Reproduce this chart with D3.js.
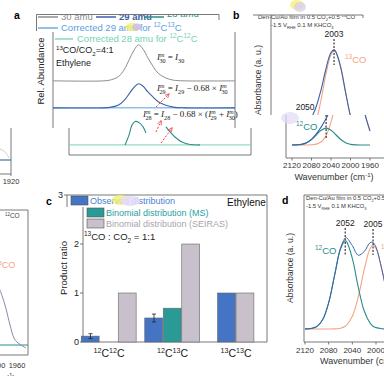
<!DOCTYPE html>
<html>
<head>
<meta charset="utf-8">
<script src="https://cdn.jsdelivr.net/npm/d3@7"></script>
<style>
  body { margin: 0; background: #fff; }
  svg { display: block; font-family: "Liberation Sans", Arial, sans-serif; }
</style>
</head>
<body>
<svg id="fig" width="384" height="376"></svg>
<script>
// ---------------- data ----------------
// panel a : mass spec traces (time in arbitrary units, signal relative)
var msTime = [0, 28, 32, 36, 39, 42, 44.5, 47, 49.5, 52, 55, 58, 62, 66, 72, 100];
var amu30 = [0, 0, 0.03, 0.12, 0.3, 0.6, 0.85, 1.0, 0.88, 0.65, 0.4, 0.2, 0.08, 0.02, 0, 0];
var amu29 = [0, 0, 0.02, 0.08, 0.2, 0.4, 0.57, 0.67, 0.6, 0.45, 0.3, 0.16, 0.07, 0.02, 0, 0];
var amu28LeftTime = [30.8, 33, 34.6, 36.3, 38.5, 40.7, 42.3];
var amu28Left = [0, 0.28, 0.55, 0.65, 0.62, 0.5, 0.33];
var amu28RightTime = [53.3, 55.5, 58.2, 62.1, 66.5, 72];
var amu28Right = [0.5, 0.36, 0.22, 0.08, 0.01, 0];
var baseline30 = 2.06, baseline29 = 1.31, baseline28 = 0.28;

// panel b : SEIRAS, 13CO / 12CO fit
var wnB = [2120, 2110, 2100, 2090, 2080, 2070, 2060, 2050, 2040, 2030, 2020, 2010, 2003, 2000, 1990, 1980, 1970, 1960];
var co13B = [0, 0, 0, 0, 0.002, 0.009, 0.033, 0.097, 0.231, 0.447, 0.705, 0.903, 0.95, 0.941, 0.798, 0.55, 0.308, 0.141];
var co12B = [0, 0.002, 0.007, 0.023, 0.055, 0.103, 0.15, 0.17, 0.15, 0.103, 0.055, 0.023, 0.011, 0.007, 0.002, 0, 0, 0];
var totalB = [0, 0.002, 0.007, 0.023, 0.057, 0.112, 0.183, 0.267, 0.381, 0.55, 0.76, 0.926, 0.961, 0.948, 0.8, 0.55, 0.308, 0.141];
var ticksB = [2120, 2080, 2040, 2000, 1960];

// panel c : product ratio bars
var isotopes = [["12", "12"], ["12", "13"], ["13", "13"]];
var observed = [0.12, 0.49, 1.0];
var observedErr = [0.05, 0.08, 0];
var binomialMS = [0, 0.69, null];
var binomialSEIRAS = [1.0, 2.0, 1.0];
var ticksC = [0, 1, 2, 3];

// panel d : SEIRAS 1:1
var wnD = [2120, 2110, 2100, 2090, 2080, 2070, 2060, 2052, 2050, 2040, 2030, 2020, 2010, 2005, 2000, 1990, 1980, 1970, 1960];
var co12D = [0.001, 0.005, 0.028, 0.105, 0.289, 0.589, 0.879, 0.97, 0.964, 0.777, 0.46, 0.2, 0.064, 0.03, 0.015, 0.003, 0, 0, 0];
var co13D = [0, 0, 0, 0, 0, 0.001, 0.009, 0.03, 0.04, 0.139, 0.351, 0.65, 0.885, 0.92, 0.885, 0.65, 0.351, 0.139, 0.04];
var totalD = [0.001, 0.005, 0.028, 0.105, 0.289, 0.59, 0.888, 1.0, 1.004, 0.916, 0.811, 0.85, 0.949, 0.95, 0.9, 0.653, 0.351, 0.139, 0.04];
var ticksD = [2120, 2080, 2040, 2000];

// ---------------- styles ----------------
var col = {
  gray: "#8d8d8d", dblue: "#3a62a8", lblue: "#5b9de2", mint: "#74d3b4",
  teal: "#2d8c88", orange: "#f5a482", red: "#e8414a", axis: "#555",
  barBlue: "#4474c3", barTeal: "#2a9a97", barGray: "#c8c1cc"
};
var svg = d3.select("#fig");
var defs = svg.append("defs");
var serif = "'Liberation Serif', 'Times New Roman', serif";

function clip(id, x, y, w, h) {
  defs.append("clipPath").attr("id", id).append("rect")
    .attr("x", x).attr("y", y).attr("width", w).attr("height", h);
  return "url(#" + id + ")";
}
defs.append("marker").attr("id", "arr").attr("viewBox", "0 0 10 10")
  .attr("refX", 8).attr("refY", 5).attr("markerWidth", 5).attr("markerHeight", 5)
  .attr("orient", "auto").append("path").attr("d", "M0,1L9,5L0,9").attr("fill", "none")
  .attr("stroke", col.red).attr("stroke-width", 1.5);

// text with sup/sub parts: [text, "n"|"sup"|"sub", dx, style]
function rich(g, x, y, parts, fs, opts) {
  opts = opts || {};
  var t = g.append("text").attr("x", x).attr("y", y).attr("font-size", fs)
    .attr("fill", opts.fill || "#222");
  if (opts.anchor) t.attr("text-anchor", opts.anchor);
  if (opts.family) t.attr("font-family", opts.family);
  if (opts.weight) t.attr("font-weight", opts.weight);
  if (opts.transform) t.attr("transform", opts.transform);
  var shift = 0;
  parts.forEach(function(p) {
    var target = p[1] === "sup" ? -fs * 0.38 : p[1] === "sub" ? fs * 0.28 : 0;
    var s = t.append("tspan").text(p[0]).attr("dy", target - shift);
    if (p[1] !== "n") s.attr("font-size", fs * 0.68);
    if (p[2]) s.attr("dx", p[2]);
    if (p[3]) s.attr("font-style", p[3]);
    shift = target;
  });
  return t;
}
function line(g, d, stroke, w, dash) {
  return g.append("path").attr("d", d).attr("fill", "none").attr("stroke", stroke)
    .attr("stroke-width", w || 0.8).attr("stroke-dasharray", dash || null);
}
function blob(x, y, rx, ry, c, o) {
  svg.append("ellipse").attr("cx", x).attr("cy", y).attr("rx", rx).attr("ry", ry)
    .attr("fill", c).attr("opacity", o);
}

// ================= panel a =================
var xA = d3.scaleLinear().domain([0, 100]).range([53, 235]);     // upper strip
var xA3 = d3.scaleLinear().domain([0, 100]).range([69, 251]);    // lower strip
var yA = d3.scaleLinear().domain([0, 3.4]).range([155, 32.6]);
var curve = d3.curveCatmullRom;

svg.append("text").attr("x", 14).attr("y", 19).attr("font-size", 10.5).attr("font-weight", "bold").text("a");
// legend frame and rows
line(svg, "M36.5,31V14.5H219V20", "#555");
var legRow1 = [["30 amu", col.gray, 38], ["29 amu", col.dblue, 96], ["28 amu", col.teal, 144]];
var leg1 = svg.append("g").attr("clip-path", clip("cLeg1", 30, 14.8, 200, 20));
legRow1.forEach(function(r, i) {
  line(leg1, "M" + r[2] + ",17H" + (r[2] + 20), r[1], 1.3);
  leg1.append("text").attr("x", r[2] + 23).attr("y", i === 2 ? 17 : 20).attr("font-size", 9.5)
    .attr("fill", r[1]).attr("font-weight", i === 1 ? "bold" : null).text(r[0]);
});
line(svg, "M38,28H58", col.lblue, 1.3);
rich(svg, 61, 31, [["Corrected 29 amu for ", "n"], ["12", "sup"], ["C", "n"], ["13", "sup"], ["C", "n"]], 9.5, {fill: col.lblue});
blob(133, 27, 8, 4, "#f3f06a", 0.8);
blob(137, 27, 5, 3.5, "#c9b8f0", 0.8);

// upper strip of panel a
var gA = svg.append("g").attr("clip-path", clip("cA2", 0, 32, 252, 96));
line(gA, "M" + xA(0) + ",30V128M" + xA(100) + ",30V128", "#555");
line(gA, "M55,39H73", col.mint, 1.3);
rich(gA, 77, 42, [["Corrected 28 amu for ", "n"], ["12", "sup"], ["C", "n"], ["12", "sup"], ["C", "n"]], 9.5, {fill: col.mint});
rich(gA, 56, 53, [["13", "sup"], ["CO/CO", "n"], ["2", "sub"], ["=4:1", "n"]], 9);
gA.append("text").attr("x", 56).attr("y", 66).attr("font-size", 9).attr("fill", "#222").text("Ethylene");
rich(gA, 44, 71, [["Rel. Abundance", "n"]], 9.5, {anchor: "middle", transform: "rotate(-90,44,71)"});

function trace(g, xs, ts, vs, base, color, w) {
  var pts = ts.map(function(t, i) { return [t, vs[i]]; });
  g.append("path").datum(pts).attr("fill", "none").attr("stroke", color).attr("stroke-width", w || 1)
    .attr("d", d3.line().curve(curve).x(function(d) { return xs(d[0]); })
      .y(function(d) { return yA(d[1] + base); }));
}
trace(gA, xA, msTime, amu30, baseline30, col.gray, 1);
trace(gA, xA, [0, 100], [0, 0], baseline29, col.lblue, 1);
trace(gA, xA, msTime, amu29, baseline29, col.dblue, 1.1);

var fs = 9;
rich(gA, 157, 60, [["I", "n", 0, "italic"], ["m", "sup", 0, "italic"], ["30", "sub", -5], [" = ", "n"], ["I", "n", 0, "italic"], ["30", "sub"]], fs, {family: serif});
rich(gA, 157, 91, [["I", "n", 0, "italic"], ["m", "sup", 0, "italic"], ["29", "sub", -5], [" = ", "n"], ["I", "n", 0, "italic"], ["29", "sub"], [" − 0.68 × ", "n"], ["I", "n", 0, "italic"], ["m", "sup", 0, "italic"], ["30", "sub", -5]], fs, {family: serif});
rich(gA, 143, 117, [["I", "n", 0, "italic"], ["m", "sup", 0, "italic"], ["28", "sub", -5], [" = ", "n"], ["I", "n", 0, "italic"], ["28", "sub"], [" − 0.68 × (", "n"], ["I", "n", 0, "italic"], ["m", "sup", 0, "italic"], ["29", "sub", -5], [" + ", "n"], ["I", "n", 0, "italic"], ["m", "sup", 0, "italic"], ["30", "sub", -5], [")", "n"]], fs, {family: serif});
line(gA, "M156,107L169,94", col.red, 1, "2,1.6").attr("marker-end", "url(#arr)");

// lower strip of panel a
var gA3 = svg.append("g").attr("clip-path", clip("cA3", 60, 118, 200, 45));
line(gA3, "M" + xA3(0) + ",128V155H" + xA3(100) + "V128", "#555");
trace(gA3, xA3, [0, 100], [0, 0], baseline28, col.mint, 1);
trace(gA3, xA3, amu28LeftTime, amu28Left, baseline28, col.teal, 1.1);
trace(gA3, xA3, amu28RightTime, amu28Right, baseline28, col.teal, 1.1);
line(svg, "M156,132L161,121", col.red, 1, "2,1.6").attr("marker-end", "url(#arr)");
line(svg, "M161,143L172,128", col.red, 1, "2,1.6").attr("marker-end", "url(#arr)");

// left fragments (neighbouring panel)
var xL1 = d3.scaleLinear().domain([1940, 1920]).range([-8, 11]);
line(svg, "M" + xL1(1920) + ",128V174H0M" + xL1(1920) + ",174v2", "#555");
svg.append("text").attr("x", xL1(1920)).attr("y", 184).attr("font-size", 7.5).attr("text-anchor", "middle").attr("fill", "#333").text("1920");
line(svg, "M0,160H11", col.dblue, 1.1);
line(svg, "M0,149Q6,151 9,158", "#c4c4c4", 0.8);

var xL2 = d3.scaleLinear().domain([2000, 1960]).range([-3, 17]);
var yL2 = d3.scaleLinear().domain([0, 1]).range([345, 245]);
line(svg, "M0,210H28V355H0", "#555");
[2000, 1960].forEach(function(t) {
  svg.append("text").attr("x", xL2(t)).attr("y", 368).attr("font-size", 7.5).attr("text-anchor", "middle").attr("fill", "#333").text(t);
});
rich(svg, -6, 380, [["(cm", "n"], ["-1", "sup"], [")", "n"]], 8);
rich(svg, 5, 218, [["12", "sup"], ["CO", "n"]], 6.5, {fill: "#444"});
rich(svg, -5, 268, [["13", "sup"], ["CO", "n"]], 9, {fill: col.orange});
line(svg, "M0,345H28", col.teal, 1);
var wnL = [1994, 1984, 1974, 1966, 1958, 1942];
var vL = [0.55, 0.4, 0.2, 0.07, 0.02, -0.03];
svg.append("path").datum(wnL.map(function(w, i) { return [w, vL[i]]; }))
  .attr("fill", "none").attr("stroke", "#8a88b0").attr("stroke-width", 1)
  .attr("d", d3.line().curve(curve).x(function(d) { return xL2(d[0]); }).y(function(d) { return yL2(d[1]); }));

// ================= panel b =================
var xB = d3.scaleLinear().domain([2120, 1960]).range([292, 370]);
var yB = d3.scaleLinear().domain([0, 1]).range([145, 46]);
svg.append("text").attr("x", 233).attr("y", 19).attr("font-size", 10.5).attr("font-weight", "bold").text("b");

// curves and frame are drawn in both strips; texts only where they show
function drawB(g, upper) {
  function fit(vals, color, w) {
    g.append("path").datum(wnB.map(function(w, i) { return [w, vals[i]]; }))
      .attr("fill", "none").attr("stroke", color).attr("stroke-width", w)
      .attr("d", d3.line().curve(curve).x(function(d) { return xB(d[0]); }).y(function(d) { return yB(d[1]); }));
  }
  line(g, "M286,10V158H400", "#555");
  fit(co13B, col.orange, 1.1);
  fit(co12B, col.teal, 1.2);
  fit(totalB, col.dblue, 1.1);
  if (upper) {
    line(g, "M" + xB(2003) + ",39V65", "#444", 1.3, "2,1.5");
    g.append("text").attr("x", xB(2003)).attr("y", 37).attr("text-anchor", "middle").attr("font-size", 8.5).attr("fill", "#222").text("2003");
    g.append("text").attr("x", xB(2050) - 6).attr("y", 110).attr("text-anchor", "middle").attr("font-size", 8.5).attr("fill", "#222").text("2050");
    rich(g, 360, 63, [["13", "sup"], ["CO", "n"]], 9.5, {fill: col.orange});
    rich(g, 276, 80, [["Absorbance (a. u.)", "n"]], 8.5, {anchor: "middle", fill: "#333", transform: "rotate(-90,276,80)"});
  } else {
    line(g, "M" + xB(2050) + ",115V138", "#444", 1.3, "2,1.5");
    rich(g, 296, 130, [["12", "sup"], ["CO", "n"]], 9.5, {fill: col.teal});
    ticksB.forEach(function(t) {
      line(g, "M" + xB(t) + ",158v2.5", "#555");
      g.append("text").attr("x", xB(t)).attr("y", 168).attr("text-anchor", "middle").attr("font-size", 8).attr("fill", "#333").text(t);
    });
    rich(g, 334, 180, [["Wavenumber (cm", "n"], ["-1", "sup"], [")", "n"]], 9, {anchor: "middle", fill: "#333"});
  }
}
var gB1 = svg.append("g").attr("clip-path", clip("cB1", 254, 15, 140, 100))
  .append("g").attr("transform", "translate(-15,0)");
drawB(gB1, true);
var gB2 = svg.append("g").attr("clip-path", clip("cB2", 270, 115, 120, 75));
drawB(gB2, false);
line(svg, "M253,15H363V18", "#555");
var gBh = svg.append("g").attr("clip-path", clip("cBh", 250, 15.5, 134, 20));
rich(gBh, 258, 19, [["Den-Cu/Au film in 0.5 CO", "n"], ["2", "sub"], ["+0.5 ", "n"], ["13", "sup"], ["CO", "n"]], 6, {fill: "#333"});
rich(gBh, 271, 27, [["-1.5 V", "n"], ["RHE", "sub"], [" 0.1 M KHCO", "n"], ["3", "sub"]], 6, {fill: "#333"});
blob(297, 5, 7, 5, "#f3f06a", 0.7);
blob(300, 7, 6, 5, "#d7c9f2", 0.7);
blob(290, 118, 9, 6, "#e2daf6", 0.7);

// ================= panel c =================
var barSets = [["obs", observed, col.barBlue], ["ms", binomialMS, col.barTeal], ["seiras", binomialSEIRAS, col.barGray]];
var xC = d3.scalePoint().domain([0, 1, 2]).range([109, 236]);
var slotW = 18.5;
var yC = d3.scaleLinear().domain([0, 3]).range([342, 195]);

svg.append("text").attr("x", 46).attr("y", 205).attr("font-size", 10.5).attr("font-weight", "bold").text("c");
line(svg, "M67,207V" + yC(3) + "H267V" + yC(0) + "H83V207", "#555");
ticksC.forEach(function(t) {
  var off = t === 3 ? -16 : 0;
  svg.append("text").attr("x", 79 + off).attr("y", yC(t) + 3).attr("text-anchor", "end")
    .attr("font-size", 9).attr("fill", "#222").text(t);
  line(svg, "M" + (80 + off) + "," + yC(t) + "h3", "#555");
});
rich(svg, 67, 268, [["Product  ratio", "n"]], 9.5, {anchor: "middle", transform: "rotate(-90,67,268)"});

var barData = [];
isotopes.forEach(function(p, i) {
  var present = barSets.filter(function(s) { return s[1][i] !== null; });
  var sub = d3.scaleBand().domain(present.map(function(s) { return s[0]; }))
    .range([-present.length * slotW / 2, present.length * slotW / 2]);
  present.forEach(function(s) {
    barData.push({group: i, value: s[1][i], color: s[2], x: xC(i) + sub(s[0]), w: sub.bandwidth(), key: s[0]});
  });
});
svg.append("g").selectAll("rect").data(barData).enter().append("rect")
  .attr("x", function(d) { return d.x; })
  .attr("y", function(d) { return yC(d.value); })
  .attr("width", function(d) { return d.w - 0.6; })
  .attr("height", function(d) { return yC(0) - yC(d.value); })
  .attr("fill", function(d) { return d.color; })
  .attr("stroke", "#666").attr("stroke-width", 0.6);
barData.filter(function(d) { return d.key === "obs" && observedErr[d.group]; }).forEach(function(d) {
  var cx = d.x + d.w / 2, e = observedErr[d.group];
  line(svg, "M" + cx + "," + yC(d.value + e) + "V" + yC(d.value - e) +
    "M" + (cx - 2) + "," + yC(d.value + e) + "h4M" + (cx - 2) + "," + yC(d.value - e) + "h4", "#222", 0.8);
});
isotopes.forEach(function(p, i) {
  rich(svg, xC(i), 357, [[p[0], "sup"], ["C", "n"], [p[1], "sup"], ["C", "n"]], 10.5, {anchor: "middle"});
});
// legend
var legC = [["Observed distribution", col.barBlue, 71, 201, "#4a7fd0"],
            ["Binomial distribution (MS)", col.barTeal, 87, 213, "#2aa0a0"],
            ["Binomial distribution (SEIRAS)", col.barGray, 87, 224, "#aaa4ae"]];
legC.forEach(function(r) {
  svg.append("rect").attr("x", r[2]).attr("y", r[3] - 5).attr("width", 17).attr("height", 9)
    .attr("fill", r[1]).attr("stroke", "#555").attr("stroke-width", 0.6);
  svg.append("text").attr("x", r[2] + 19).attr("y", r[3] + 3).attr("font-size", 9).attr("fill", r[4]).text(r[0]);
});
blob(120, 200, 8, 5, "#f3f06a", 0.8);
blob(130, 201, 10, 5, "#e6dcf8", 0.9);
svg.append("text").attr("x", 227).attr("y", 206).attr("font-size", 10).attr("fill", "#111").text("Ethylene");
rich(svg, 84, 240, [["13", "sup"], ["CO : CO", "n"], ["2", "sub"], [" = 1:1", "n"]], 9.5);

// ================= panel d =================
var xD = d3.scaleLinear().domain([2120, 2000]).range([305, 376]);
var yD = d3.scaleLinear().domain([0, 1]).range([329, 238]);
svg.append("text").attr("x", 282).attr("y", 204).attr("font-size", 10.5).attr("font-weight", "bold").text("d");
line(svg, "M390,195H304V342H390", "#555");
function fitD(vals, color, w) {
  svg.append("path").datum(wnD.map(function(t, i) { return [t, vals[i]]; }))
    .attr("fill", "none").attr("stroke", color).attr("stroke-width", w)
    .attr("d", d3.line().curve(curve).x(function(d) { return xD(d[0]); }).y(function(d) { return yD(d[1]); }));
}
fitD(co13D, col.orange, 1.1);
fitD(co12D, col.teal, 1.1);
fitD(totalD, col.dblue, 1);
line(svg, "M" + xD(2052) + ",228V255M" + xD(2005) + ",229V255", "#444", 1.3, "2,1.5");
svg.append("text").attr("x", xD(2052)).attr("y", 226).attr("text-anchor", "middle").attr("font-size", 8.5).attr("fill", "#222").text("2052");
svg.append("text").attr("x", xD(2005)).attr("y", 227).attr("text-anchor", "middle").attr("font-size", 8.5).attr("fill", "#222").text("2005");
rich(svg, 315, 254, [["12", "sup"], ["CO", "n"]], 9.5, {fill: col.teal});
rich(svg, 381, 253, [["13", "sup"], ["CO", "n"]], 9.5, {fill: col.orange});
rich(svg, 306, 200, [["Den-Cu/Au film in 0.5 CO", "n"], ["2", "sub"], ["+0.5 ", "n"], ["13", "sup"], ["CO", "n"]], 5.8, {fill: "#333"});
rich(svg, 306, 208, [["-1.5 V", "n"], ["RHE", "sub"], [" 0.1 M KHCO", "n"], ["3", "sub"]], 5.8, {fill: "#333"});
ticksD.forEach(function(t) {
  line(svg, "M" + xD(t) + ",342v2.5", "#555");
  svg.append("text").attr("x", xD(t)).attr("y", 353).attr("text-anchor", "middle").attr("font-size", 8).attr("fill", "#333").text(t);
});
rich(svg, 320, 364, [["Wavenumber (cm", "n"], ["-1", "sup"], [")", "n"]], 9, {fill: "#333"});
rich(svg, 293, 268, [["Absorbance (a. u.)", "n"]], 8.5, {anchor: "middle", fill: "#333", transform: "rotate(-90,293,268)"});
</script>
</body>
</html>
